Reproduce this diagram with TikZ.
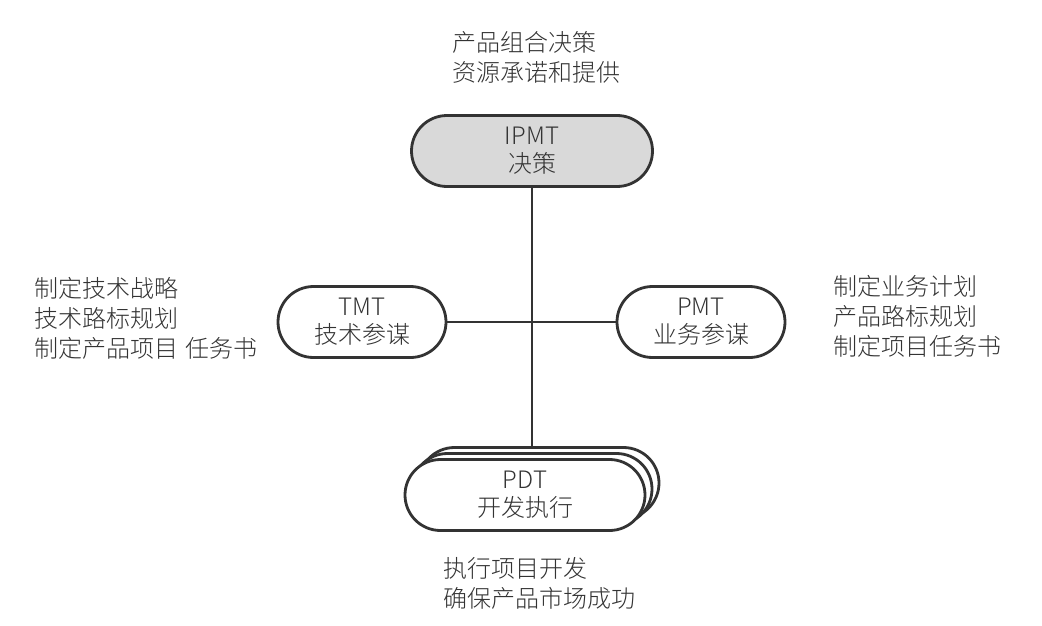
\documentclass[tikz,border=0pt]{standalone}
\usepackage{fontspec}
\setmainfont{Noto Sans CJK SC}[UprightFont={* Light}]
\usetikzlibrary{shapes.misc}

\begin{document}
\begin{tikzpicture}[x=1pt,y=-1pt,
        team/.style={rounded rectangle, draw=black!80, line width=2.8pt, fill=white,
            minimum height=71pt, inner sep=0pt, align=center, text=black!80,
            font=\fontsize{24}{28}\selectfont},
        note/.style={inner sep=0pt, align=left, text=black!80,
            font=\fontsize{24}{30}\selectfont},
        link/.style={draw=black!80, line width=2.8pt}]
            \useasboundingbox (0,0) rectangle (1042,626);
            % stacked PDT boxes, back to front
            \node[team, minimum width=240pt] (pdt3) at (539, 483) {};
            \node[team, minimum width=240pt] (pdt2) at (532, 489) {};
            \node[team, minimum width=240pt] (pdt) at (525, 495) {PDT\\开发执行};
            \node[team, minimum width=241pt, fill=black!15] (ipmt) at (532, 151) {IPMT\\决策};
            \node[team, minimum width=168pt] (tmt) at (362, 322) {TMT\\技术参谋};
            \node[team, minimum width=168pt] (pmt) at (701, 322) {PMT\\业务参谋};
            \draw[link] (ipmt.south) -- (ipmt.south |- pdt3.north);
            \draw[link] (tmt.east) -- (pmt.west);
            % notes
            \node[note, anchor=west] (ipmtnote) at (452, 57) {产品组合决策\\资源承诺和提供};
            \node[note, anchor=west] (tmtnote) at (34, 318) {制定技术战略\\技术路标规划\\制定产品项目\hspace{0.3em}任务书};
            \node[note, anchor=west] (pmtnote) at (833, 316) {制定业务计划\\产品路标规划\\制定项目任务书};
            \node[note, anchor=west] (pdtnote) at (443, 583) {执行项目开发\\确保产品市场成功};
        \end{tikzpicture}
\end{document}
